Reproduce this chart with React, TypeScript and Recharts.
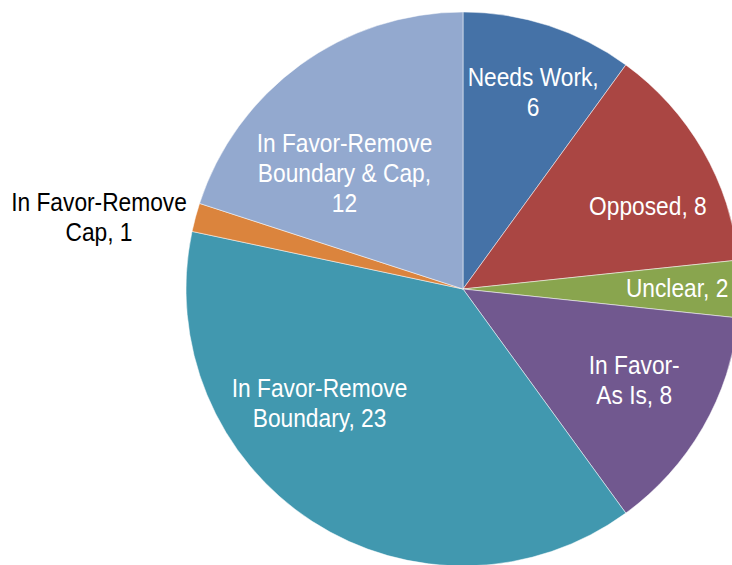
import { PieChart, Pie, Cell } from "recharts";

const categories = [
  "Needs Work",
  "Opposed",
  "Unclear",
  "In Favor-As Is",
  "In Favor-Remove Boundary",
  "In Favor-Remove Cap",
  "In Favor-Remove Boundary & Cap",
];
const counts = [6, 8, 2, 8, 23, 1, 12];
const colors = ["#4572A7", "#AA4643", "#89A54E", "#71588F", "#4198AF", "#DB843D", "#93A9CF"];

// label placement: fraction of radius, angle shift (deg, clockwise), wrap width, inside/outside
const labelLayout = [
  { r: 0.755, shift: 1.6, wrap: 11, outside: false },
  { r: 0.733, shift: 5.6, wrap: 15, outside: false },
  { r: 0.773, shift: -0.5, wrap: 15, outside: false },
  { r: 0.7, shift: -2, wrap: 9, outside: false },
  { r: 0.66, shift: 18.7, wrap: 15, outside: false },
  { r: 1.34, shift: -3.7, wrap: 15, outside: true },
  { r: 0.6, shift: -9.5, wrap: 15, outside: false },
];

const data = categories.map((name, i) => ({ name, value: counts[i] }));

const FONT = "'Liberation Sans Narrow', 'Arial Narrow', 'Liberation Sans', Arial, sans-serif";
const LINE = 30;
const SQUEEZE = 0.91;

const wrapText = (text: string, max: number) => {
  const tokens = text.match(/[^\s-]+-?\s*|\s+/g) || [text];
  const lines: string[] = [];
  let cur = "";
  tokens.forEach((t) => {
    if ((cur + t).trimEnd().length > max && cur.length > 0) {
      lines.push(cur.trimEnd());
      cur = t;
    } else {
      cur += t;
    }
  });
  if (cur.trim().length) lines.push(cur.trimEnd());
  return lines;
};

const renderLabel = (props: any) => {
  const { cx, cy, midAngle, outerRadius, index, name, value } = props;
  const lay = labelLayout[index];
  const angle = ((midAngle - lay.shift) * Math.PI) / 180;
  const x = cx + outerRadius * lay.r * Math.cos(angle);
  const y = cy - outerRadius * lay.r * Math.sin(angle);
  const lines = wrapText(`${name}, ${value}`, lay.wrap);
  const top = -((lines.length - 1) * LINE) / 2;
  return (
    <g key={`lbl-${index}`} transform={`translate(${x},${y}) scale(${SQUEEZE},1)`}>
      <text
        x={0}
        y={top}
        textAnchor="middle"
        dominantBaseline="central"
        fill={lay.outside ? "#000" : "#fff"}
        fontFamily={FONT}
        fontSize={25}
      >
        {lines.map((l, i) => (
          <tspan key={i} x={0} y={top + i * LINE}>
            {l}
          </tspan>
        ))}
      </text>
    </g>
  );
};

export default function App() {
  return (
    <div style={{ position: "absolute", left: 0, top: 0, width: 732, height: 565, background: "#fff" }}>
      <PieChart width={732} height={565} margin={{ top: 0, right: 0, bottom: 0, left: 0 }}>
        <Pie
          data={data}
          dataKey="value"
          nameKey="name"
          cx={463}
          cy={289}
          outerRadius={277}
          startAngle={90}
          endAngle={-270}
          stroke="#fff"
          strokeWidth={0.5}
          label={renderLabel}
          labelLine={false}
          isAnimationActive={false}
        >
          {data.map((d, i) => (
            <Cell key={d.name} fill={colors[i]} />
          ))}
        </Pie>
      </PieChart>
    </div>
  );
}
